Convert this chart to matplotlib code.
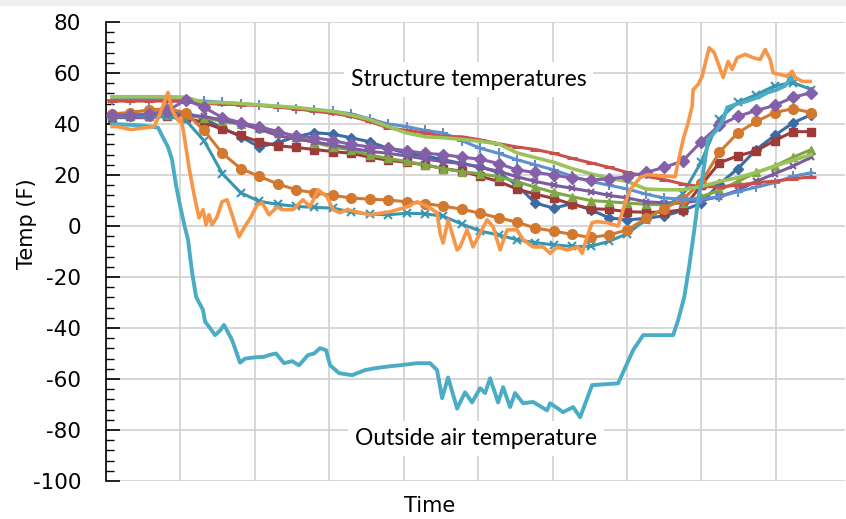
import numpy as np
import matplotlib
matplotlib.use("Agg")
import matplotlib.pyplot as plt
from matplotlib.patches import Rectangle
from matplotlib.ticker import MultipleLocator, NullFormatter

plt.rcParams["axes.unicode_minus"] = False

# Time axis: one unit per vertical gridline
t = np.linspace(0.08, 9.48, 39)

# Structure sensors (deg F), sampled on t
blue_diamond = [43, 43, 43.2, 43.8, 44.5, 42, 38.5, 35, 31, 32.7, 35, 36.6, 36, 34.6, 33,
                30.5, 28.5, 27.5, 26, 24.5, 23.2, 21, 16, 9, 7, 8.8, 6.4, 3.2, 2.4, 3, 4,
                6, 9, 16.5, 22.5, 30, 35.5, 40.5, 43.7]
red_square = [42.5, 43, 43, 43, 42.5, 40.5, 38, 35.5, 33, 31.5, 30.8, 30, 29.2, 28.5, 27,
              25.8, 25, 24, 22.5, 21.5, 19.5, 17.5, 14.5, 12.5, 10.8, 8.5, 6.8, 6.5, 5.6,
              5.4, 5.4, 6.4, 16, 24.8, 27.5, 29.5, 33.5, 37, 37]
green_triangle = [43, 43, 43, 43.5, 43.5, 42.5, 41, 40, 38.5, 37, 35, 32.7, 31, 29.8, 27.8,
                  26.5, 25.3, 24, 22.5, 21.3, 20.5, 19.3, 17.4, 15.2, 13.2, 11.5, 10, 9.5,
                  9, 8.5, 8.3, 9.2, 11.5, 14, 17.5, 21, 23.5, 27, 30]
purple_x = [42.5, 42.5, 42.5, 43, 43.5, 43, 41.5, 40, 38, 35.5, 34, 33, 31.8, 30.5, 29.3,
            28.5, 27.5, 26.3, 25.2, 24.5, 23, 21.5, 19.3, 17.5, 16, 14.8, 13.5, 12, 11,
            9.5, 9.1, 9.1, 10, 11.5, 14, 17.5, 20.5, 23.5, 27]
teal_x = [43, 43, 43, 43, 41.5, 33.5, 20.5, 13, 9.7, 8.5, 7.7, 7.3, 7, 5.5, 4.6, 4.4, 5,
          4.8, 3.8, 0.8, -2, -3.5, -5.4, -6.5, -7.4, -8, -8, -6, -3, 2.5, 7, 12.5, 25,
          42, 48.5, 51.5, 55, 56.2, 53.5]
orange_circle = [44, 44.5, 45.5, 46, 44.5, 37.5, 28.5, 22.5, 19.5, 16.5, 14.2, 13, 12, 11,
                 10.5, 10.2, 9.5, 8.8, 7.8, 6.6, 5, 3.2, 1.5, -0.8, -2, -3.3, -4.5, -3.5,
                 -1.5, 3, 6.8, 10.5, 17, 29, 36.5, 41, 44.5, 46, 44.5]
blue_plus = [49.6, 49.6, 49.6, 49.6, 49.3, 49, 48.5, 48, 47.5, 46.8, 46, 45.6, 45, 44, 42,
             40, 39, 37.5, 36.5, 33.5, 30.5, 28.5, 26, 24, 22, 19.5, 17.5, 16, 14.5, 12.5,
             11, 10.5, 10.5, 11.5, 13.5, 15.2, 17, 19.5, 20.9]
red_dash = [49, 49, 49, 49, 48.8, 48, 47.8, 47.5, 47.3, 46.6, 46, 45, 44.2, 43, 41, 38.5,
            37.5, 36.5, 35.2, 35, 33.8, 32.3, 31, 30, 28.5, 26.5, 24.8, 23, 21, 19.5, 18.2,
            16.5, 15.4, 15.4, 16, 17, 17.6, 18.5, 19.3]
green_line = [50.7, 50.7, 50.7, 50.7, 50.5, 48.4, 48.4, 48, 47.5, 47, 46.5, 45.7, 45, 43.5,
              41.7, 39, 36.5, 35, 34.6, 34, 33.2, 32.2, 28.7, 26.8, 25, 22.5, 20.5, 18.8,
              17.5, 14.5, 14.2, 14.2, 15.5, 17.4, 19, 21, 23.5, 25.8, 28]
purple_diamond = [43.5, 43.5, 44, 45, 49.5, 46.5, 42.5, 40.5, 39, 37, 35.2, 34.6, 33.5, 32,
                  31, 30.5, 29.5, 28.5, 28, 27, 26.2, 24.5, 22, 21, 20, 18.8, 18, 18.5,
                  19.3, 21, 23, 25.5, 33, 39.5, 43, 45.3, 47.3, 50.5, 52.3]

# Outside air temperature
air_t = [0.08, 0.457, 0.699, 0.766, 0.833, 0.887, 0.941, 0.995, 1.048, 1.102, 1.156, 1.21,
         1.304, 1.331, 1.398, 1.465, 1.532, 1.586, 1.694, 1.801, 1.868, 2.003, 2.124, 2.204,
         2.285, 2.392, 2.5, 2.594, 2.715, 2.796, 2.876, 2.957, 3.011, 3.132, 3.306, 3.481,
         3.629, 3.817, 3.952, 4.18, 4.355, 4.449, 4.516, 4.597, 4.718, 4.825, 4.919, 5.027,
         5.094, 5.161, 5.269, 5.336, 5.43, 5.497, 5.605, 5.739, 5.927, 5.968, 6.142, 6.277,
         6.371, 6.532, 6.882, 7.083, 7.218, 7.621, 7.688, 7.769, 7.836, 7.903, 7.957, 8.024,
         8.091, 8.212, 8.293, 8.347, 8.454, 8.616, 8.79, 8.884, 9.019, 9.126, 9.167, 9.194,
         9.22]
air_temp = [40, 39.5, 38.6, 34.7, 31, 26, 16, 8, 1, -5.4, -18, -27.7, -33, -37.5, -40, -42.8,
            -41, -38.8, -44.7, -53.6, -52, -51.5, -51.3, -50.5, -50, -53.8, -53, -54.6,
            -50.6, -50, -47.9, -48.7, -54.6, -57.7, -58.5, -56.5, -55.7, -55, -54.6, -53.8,
            -53.8, -56.5, -67.5, -59.4, -71.6, -65.2, -69.2, -63.6, -65.5, -59.7, -69.2,
            -63.2, -71, -65.5, -69.5, -69, -72.3, -69.5, -73, -71, -75, -62.4, -61.7, -48.7,
            -42.8, -42.8, -36.9, -28, -15.9, -2, 10.3, 20.8, 34, 37.8, 41.7, 46.5, 47.6, 49,
            50.8, 52.3, 53.5, 55, 56.7, 59.4, 57.5]

# Exposed surface sensor
surf_t = [0.081, 0.148, 0.336, 0.645, 0.712, 0.833, 0.887, 0.941, 0.981, 1.008, 1.048, 1.116,
          1.183, 1.25, 1.304, 1.344, 1.384, 1.425, 1.492, 1.559, 1.626, 1.694, 1.788, 1.855,
          1.949, 2.03, 2.097, 2.191, 2.298, 2.366, 2.513, 2.648, 2.742, 2.849, 2.97, 3.051,
          3.145, 3.239, 3.548, 3.817, 4.046, 4.18, 4.355, 4.449, 4.489, 4.53, 4.597, 4.664,
          4.718, 4.758, 4.852, 4.933, 5.027, 5.121, 5.202, 5.296, 5.39, 5.524, 5.605, 5.739,
          5.874, 5.968, 6.062, 6.196, 6.344, 6.398, 6.465, 6.532, 6.599, 6.734, 6.882, 6.935,
          6.976, 7.043, 7.177, 7.272, 7.648, 7.675, 7.755, 7.823, 7.876, 7.89, 7.957, 8.011,
          8.065, 8.105, 8.172, 8.239, 8.293, 8.36, 8.414, 8.481, 8.589, 8.696, 8.79, 8.858,
          8.925, 8.965, 9.059, 9.153, 9.22, 9.261, 9.355, 9.462]
surf_temp = [39, 39, 37.8, 39, 43, 52.4, 45.7, 42.5, 41, 42.5, 35.8, 22.9, 12.3, 3.2, 6.4,
             0.5, 4.4, 0.5, 3.6, 9.5, 10.3, 4.4, -4.2, -0.7, 3.6, 8.3, 9.1, 4.4, 7.5, 6.4,
             6.4, 10.3, 7.5, 14.2, 11.5, 6.4, 5.2, 6.4, 4.4, 5.6, 7.5, 9.5, 7.1, 5.2, -2.8,
             -6.7, 2.4, -4.2, -9.4, -8.2, -1.5, -8.2, -2.8, 2.4, -0.3, -9.4, -1.5, -1.5, -5.4,
             -8.2, -8.2, -10.7, -8.2, -9.4, -8.2, -10.7, -4.2, 1.3, 1.7, 1.3, 0, 5.2, 9.1,
             14.2, 19, 20.1, 19.3, 23.2, 33.9, 40.5, 47, 53.5, 55.5, 58.7, 65.3, 69.9, 68,
             62.7, 58.3, 64.5, 61.4, 66, 67.3, 66, 65.3, 69.2, 65.3, 60, 59.4, 58.7, 60.7,
             58.3, 56.7, 56.7]

fig = plt.figure(figsize=(8.46, 5.19), dpi=100)
# thin grey strip along the top of the chart frame
fig.patches.append(Rectangle((0, 0.988), 1, 0.012, transform=fig.transFigure,
                             facecolor="#f0f0f0", edgecolor="none"))
ax = fig.add_axes([0.1253, 0.0732, 0.8735, 0.8844])

series = [
    (blue_diamond, "#3C6CA5", "D", 5, 1),
    (red_square, "#9E3A38", "s", 6, 1),
    (green_triangle, "#80A646", "^", 6, 1),
    (purple_x, "#7A5C9E", "x", 5, 1.5),
    (teal_x, "#3A95B0", "x", 6, 1.5),
    (orange_circle, "#D3792F", "o", 7, 1),
    (blue_plus, "#5F8FCC", "+", 7, 1.5),
    (red_dash, "#C9504C", "_", 7, 2.2),
    (green_line, "#9CC25A", None, 0, 1),
    (purple_diamond, "#8360A8", "D", 6, 1),
]
for vals, col, mk, ms, mew in series:
    lw = 2.6 if mk is None else 2.2
    ax.plot(t, vals, color=col, lw=lw, marker=mk, ms=ms, mew=mew, zorder=3)

ax.plot(air_t, air_temp, color="#4BACC6", lw=2.8, zorder=4, solid_joinstyle="round")
ax.plot(surf_t, surf_temp, color="#F79646", lw=2.6, zorder=4, solid_joinstyle="round")

ax.set_xlim(0, 9.93)
ax.set_ylim(-100, 80)
ax.xaxis.set_major_locator(MultipleLocator(1))
ax.xaxis.set_major_formatter(NullFormatter())
ax.tick_params(axis="x", length=0)
ax.yaxis.set_major_locator(MultipleLocator(20))
ax.yaxis.set_minor_locator(MultipleLocator(4))
ax.tick_params(axis="y", which="major", direction="in", length=10, width=1.2,
               labelsize=15.5, pad=18)
ax.tick_params(axis="y", which="minor", direction="in", length=6, width=1)
ax.grid(True, which="major", color="#d4d4d4", lw=1.3, zorder=0)
ax.set_axisbelow(True)
for s in ("top", "right", "bottom"):
    ax.spines[s].set_visible(False)
ax.spines["left"].set_linewidth(1.2)

ax.set_ylabel("Temp (F)", fontsize=15)
ax.yaxis.set_label_coords(-0.093, 0.56)
ax.set_xlabel("Time", fontsize=15)
ax.xaxis.set_label_coords(0.438, -0.032)

box = dict(facecolor="white", edgecolor="none", pad=5)
ax.text(4.87, 57.5, "Structure temperatures", fontsize=16.5, family="Lato",
        ha="center", va="center", bbox=box, zorder=5)
ax.text(4.97, -83.3, "Outside air temperature", fontsize=16.5, family="Lato",
        ha="center", va="center", bbox=box, zorder=5)

fig.savefig("out.png", dpi=100)
